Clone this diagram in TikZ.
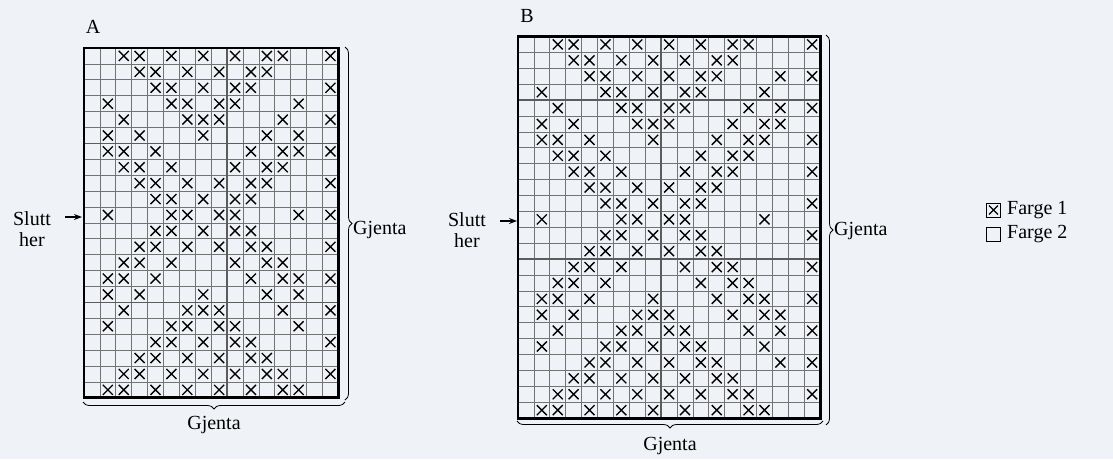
\documentclass[tikz,border=0pt]{standalone}
\usepackage{fontspec}
\setmainfont{Liberation Serif}
\usetikzlibrary{decorations.pathreplacing,arrows.meta}
\definecolor{bgc}{RGB}{239,242,246}
\definecolor{gridc}{RGB}{115,115,115}
\tikzset{
  thingrid/.style={draw=gridc,line width=0.8pt},
  thickgrid/.style={draw=gridc!80!black,line width=1.4pt},
  border/.style={draw=black,line width=2.8pt},
  xmark/.style={draw=black,line width=1.35pt},
  bracestyle/.style={draw=black,line width=0.8pt,decorate,decoration={brace,amplitude=7pt}},
  lbl/.style={font=\fontsize{20}{21}\selectfont,inner sep=0pt},
  arr/.style={-{Stealth[length=8pt,width=6pt]},line width=1.3pt},
}
\newcommand{\chartgrid}[6]{% x0,y0,cols,rows,hlines,vlines
  \pgfmathsetmacro{\cs}{15.9}
  \foreach \i in {1,...,#3}{\draw[thingrid] ({#1+\i*\cs},#2) -- ({#1+\i*\cs},{#2+#4*\cs});}
  \foreach \j in {1,...,#4}{\draw[thingrid] (#1,{#2+\j*\cs}) -- ({#1+#3*\cs},{#2+\j*\cs});}
  \foreach \j in {#5}{\draw[thickgrid] (#1,{#2+\j*\cs}) -- ({#1+#3*\cs},{#2+\j*\cs});}
  \foreach \i in {#6}{\draw[thickgrid] ({#1+\i*\cs},#2) -- ({#1+\i*\cs},{#2+#4*\cs});}
}
\newcommand{\chartx}[3]{% x0,y0,list
  \foreach \r/\cl in {#3}{
    \foreach \c in \cl {
      \draw[xmark] ({#1+(\c-0.5)*15.9-5},{#2+(\r-0.5)*15.9-5}) -- ++(10,10)
                   ({#1+(\c-0.5)*15.9-5},{#2+(\r-0.5)*15.9+5}) -- ++(10,-10);
    }
  }
}
\begin{document}
\begin{tikzpicture}[x=1pt,y=-1pt]
\useasboundingbox (0,0) rectangle (1113,459);
\fill[bgc] (0,0) rectangle (1113,459);
% ---------- Chart A ----------
\chartgrid{84}{48}{16}{22}{6,16}{9}
\chartx{84}{48}{1/{3,4,6,8,10,12,13,16},2/{4,5,7,9,11,12},3/{5,6,8,10,11,16},4/{2,6,7,9,10,14},
5/{3,7,8,9,13,16},6/{2,4,8,12,14},7/{2,3,5,11,13,14,16},8/{3,4,6,10,12,13},9/{4,5,7,9,11,12,16},
10/{5,6,8,10,11},11/{2,6,7,9,10,14,16},12/{5,6,8,10,11},13/{4,5,7,9,11,12,16},14/{3,4,6,10,12,13},
15/{2,3,5,11,13,14,16},16/{2,4,8,12,14},17/{3,7,8,9,13,16},18/{2,6,7,9,10,14},19/{5,6,8,10,11,16},
20/{4,5,7,9,11,12},21/{3,4,6,8,10,12,13,16},22/{2,3,5,7,9,11,13,14}}
\draw[border] (84,48) rectangle ({84+16*15.9},{48+22*15.9});
\node[lbl] (labA) at (93,27) {A};
\node[lbl,align=center] (sluttA) at (32,229) {Slutt\\her};
\coordinate (arrA0) at (65,217);
\coordinate (arrA1) at (82,217);
\draw[arr] (arrA0) -- (arrA1);
\coordinate (brAr0) at (345,47);
\coordinate (brAr1) at (345,400);
\draw[bracestyle] (brAr0) -- (brAr1);
\node[lbl,anchor=west] (gjAr) at (353,230) {Gjenta};
\coordinate (brAb0) at (345,402);
\coordinate (brAb1) at (83,402);
\draw[bracestyle] (brAb0) -- (brAb1);
\node[lbl] (gjAb) at (214,425) {Gjenta};
% ---------- Chart B ----------
\chartgrid{518}{36.5}{19}{24}{4,14}{9}
\chartx{518}{36.5}{1/{3,4,6,8,10,12,14,15,19},2/{4,5,7,9,11,13,14},3/{5,6,8,10,12,13,17,19},
4/{2,6,7,9,11,12,16},5/{3,7,8,10,11,15,17,19},6/{2,4,8,9,10,14,16,17},7/{2,3,5,9,13,15,16,19},
8/{3,4,6,12,14,15},9/{4,5,7,11,13,14,19},10/{5,6,8,10,12,13},11/{6,7,9,11,12,19},12/{2,7,8,10,11,16},
13/{6,7,9,11,12,19},14/{5,6,8,10,12,13},15/{4,5,7,11,13,14,19},16/{3,4,6,12,14,15},
17/{2,3,5,9,13,15,16,19},18/{2,4,8,9,10,14,16,17},19/{3,7,8,10,11,15,17,19},20/{2,6,7,9,11,12,16},
21/{5,6,8,10,12,13,17,19},22/{4,5,7,9,11,13,14},23/{3,4,6,8,10,12,14,15,19},24/{2,3,5,7,9,11,13,15,16}}
\draw[border] (518,36.5) rectangle ({518+19*15.9},{36.5+24*15.9});
\node[lbl] (labB) at (527,16) {B};
\node[lbl,align=center] (sluttB) at (467,230) {Slutt\\her};
\coordinate (arrB0) at (500,221);
\coordinate (arrB1) at (517,221);
\draw[arr] (arrB0) -- (arrB1);
\coordinate (brBr0) at (826,35);
\coordinate (brBr1) at (826,425);
\draw[bracestyle] (brBr0) -- (brBr1);
\node[lbl,anchor=west] (gjBr) at (834,231) {Gjenta};
\coordinate (brBb0) at (823,421);
\coordinate (brBb1) at (517,421);
\draw[bracestyle] (brBb0) -- (brBb1);
\node[lbl] (gjBb) at (670,446) {Gjenta};
% ---------- Legend ----------
\node[draw=black,line width=0.8pt,minimum size=14pt,inner sep=0pt] (leg1) at (993.5,210) {};
\draw[xmark,line width=1.2pt] ([shift={(3,3)}]leg1.north west) -- ([shift={(-3,-3)}]leg1.south east)
      ([shift={(3,-3)}]leg1.south west) -- ([shift={(-3,3)}]leg1.north east);
\node[lbl,anchor=west] (f1) at (1007,210) {Farge 1};
\node[draw=black,line width=0.8pt,minimum size=14pt,inner sep=0pt] (leg2) at (993.5,234) {};
\node[lbl,anchor=west] (f2) at (1007,234) {Farge 2};
\end{tikzpicture}
\end{document}
